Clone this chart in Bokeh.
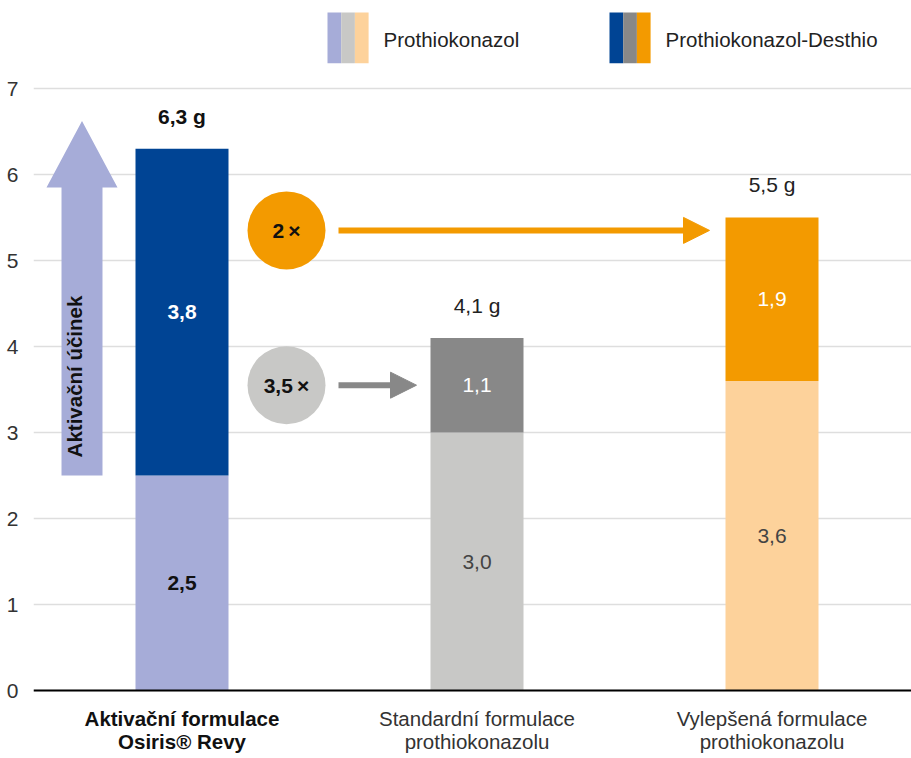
import math
from bokeh.plotting import figure
from bokeh.models import ColumnDataSource, FixedTicker, Span, Arrow, NormalHead, Range1d
from bokeh.core.properties import value
from bokeh.embed import file_html
from bokeh.resources import INLINE

# ---------------- data ----------------
cat_line1 = ["Aktivační formulace", "Standardní formulace", "Vylepšená formulace"]
cat_line2 = ["Osiris® Revy", "prothiokonazolu", "prothiokonazolu"]
prothio = [2.5, 3.0, 3.6]            # Prothiokonazol
desthio = [3.8, 1.1, 1.9]            # Prothiokonazol-Desthio
prothio_labels = ["2,5", "3,0", "3,6"]
desthio_labels = ["3,8", "1,1", "1,9"]
total_labels = ["6,3 g", "4,1 g", "5,5 g"]
ratio_labels = ["2\u2009×", "3,5\u2009×"]
y_ticks = [0, 1, 2, 3, 4, 5, 6, 7]
legend_labels = ["Prothiokonazol", "Prothiokonazol-Desthio"]
arrow_label = "Aktivační účinek"

# ---------------- styles ----------------
prothio_colors = ["#a6acd8", "#c8c8c6", "#fdd29b"]
desthio_colors = ["#004494", "#888888", "#f39a00"]
FONT = "Liberation Sans"
FS = "21px"

# layout helpers (page pixels -> data units)
X0_PX, PX_PER_X = 181.5, 295.0
Y0_PX, PX_PER_Y = 690.0, 86.0
W, H = 911, 758
LEFT = 33
def dx(px):
    return (px - X0_PX) / PX_PER_X
def dy(py):
    return (Y0_PX - py) / PX_PER_Y

xs = list(range(len(prothio)))
totals = [a + b for a, b in zip(prothio, desthio)]
bar_w = 93 / PX_PER_X

p = figure(width=W, height=H, output_backend="svg", toolbar_location=None,
           x_range=Range1d(dx(LEFT), dx(W)), y_range=Range1d(dy(H), dy(0)),
           x_axis_location=None, min_border_left=LEFT, min_border_right=0,
           min_border_top=0, min_border_bottom=0)
p.outline_line_color = None
p.xgrid.visible = False
p.ygrid.grid_line_color = "#dedede"
p.ygrid.grid_line_width = 1.5
p.yaxis.ticker = FixedTicker(ticks=y_ticks)
p.yaxis.axis_line_color = None
p.yaxis.major_tick_line_color = None
p.yaxis.minor_tick_line_color = None
p.yaxis.major_label_standoff = 9
p.yaxis.major_label_text_font = FONT
p.yaxis.major_label_text_font_size = FS
p.yaxis.major_label_text_color = "#333333"

# big "Aktivační účinek" arrow
cx = dx(81.5)
hs, hh = 20.5 / PX_PER_X, 35.5 / PX_PER_X
base_y, tip_y = dy(187), dy(120.5)
bottom_y = prothio[0]
p.patch([cx - hs, cx - hs, cx - hh, cx, cx + hh, cx + hs, cx + hs],
        [bottom_y, base_y, base_y, tip_y, base_y, base_y, bottom_y],
        fill_color=prothio_colors[0], line_color=None)
p.text(x=[dx(74)], y=[dy(376)], text=[arrow_label], angle=math.pi / 2,
       text_align="center", text_baseline="middle", text_font=value(FONT),
       text_font_style="bold", text_font_size="20.5px", text_color="#111111")

# stacked bars
src = ColumnDataSource(dict(
    x=xs, p=prothio, d=desthio, t=totals,
    pc=prothio_colors, dc=desthio_colors,
    pm=[v / 2 for v in prothio],
    dm=[a + b / 2 for a, b in zip(prothio, desthio)],
    tl=[v + 0.38 for v in totals],
    plab=prothio_labels, dlab=desthio_labels, tlab=total_labels,
    pcol=["#111111", "#444444", "#444444"],
    dcol=["#ffffff", "#ffffff", "#ffffff"],
    tcol=["#111111", "#222222", "#222222"],
    fs=["bold", "normal", "normal"],
))
p.vbar(x="x", width=bar_w, bottom=0, top="p", fill_color="pc", line_color=None, source=src)
p.vbar(x="x", width=bar_w, bottom="p", top="t", fill_color="dc", line_color=None, source=src)

for ycol, tcol, ccol in (("pm", "plab", "pcol"), ("dm", "dlab", "dcol"), ("tl", "tlab", "tcol")):
    p.text(x="x", y=ycol, text=tcol, text_color=ccol, text_font_style="fs",
           text_font=value(FONT), text_font_size=FS,
           text_align="center", text_baseline="middle", source=src)

# baseline
p.add_layout(Span(location=0, dimension="width", line_color="black", line_width=2))

# ratio circles and arrows
circ_x = dx(286)
orange_y = totals[2] - 0.15
grey_y = prothio[1] + desthio[1] / 2
p.scatter(x=[circ_x, circ_x], y=[orange_y, grey_y], size=78,
          fill_color=[desthio_colors[2], prothio_colors[1]], line_color=None)
p.text(x=[circ_x, circ_x], y=[orange_y, grey_y], text=ratio_labels,
       text_align="center", text_baseline="middle", text_font=value(FONT),
       text_font_style="bold", text_font_size=FS, text_color="#111111")

a_start = dx(338)
p.add_layout(Arrow(end=NormalHead(size=26, fill_color=desthio_colors[2], line_color=desthio_colors[2]),
                   x_start=a_start, y_start=orange_y, x_end=2 - bar_w / 2 - 16 / PX_PER_X, y_end=orange_y,
                   line_color=desthio_colors[2], line_width=6))
p.add_layout(Arrow(end=NormalHead(size=26, fill_color=desthio_colors[1], line_color=desthio_colors[1]),
                   x_start=a_start, y_start=grey_y, x_end=1 - bar_w / 2 - 14 / PX_PER_X, y_end=grey_y,
                   line_color=desthio_colors[1], line_width=6))

# category labels
for line, py in ((cat_line1, 718), (cat_line2, 741)):
    p.text(x=xs, y=[dy(py)] * 3, text=line, text_align="center", text_baseline="middle",
           text_font=value(FONT), text_font_size="20.5px",
           text_font_style=["bold", "normal", "normal"], text_color=["#111111", "#333333", "#333333"])

# legend (striped swatches)
stripe_w = 13.7
for gi, (start_px, colors) in enumerate(((327, prothio_colors), (609, desthio_colors))):
    lefts = [dx(start_px + k * stripe_w) for k in range(3)]
    rights = [dx(start_px + (k + 1) * stripe_w) for k in range(3)]
    p.quad(left=lefts, right=rights, bottom=dy(62.7), top=dy(12), fill_color=colors, line_color=None)
    p.text(x=[dx(start_px + 3 * stripe_w + 15)], y=[dy(38.5)], text=[legend_labels[gi]],
           text_align="left", text_baseline="middle", text_font=value(FONT),
           text_font_size="20.5px", text_color="#222222")

open("out.html", "w").write(file_html(p, INLINE))
